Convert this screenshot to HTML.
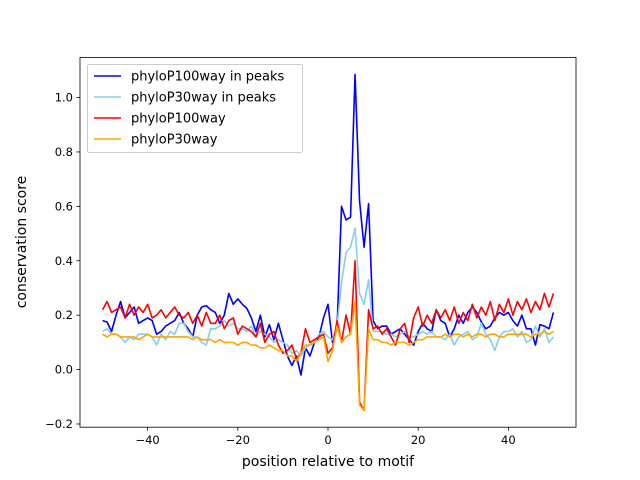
<!DOCTYPE html>
<html><head><meta charset="utf-8"><style>
body{margin:0;background:#fff;}
svg{display:block;font-family:"DejaVu Sans","Liberation Sans",sans-serif;}
</style></head><body>
<svg id="chart" width="640" height="480">
<rect x="0" y="0" width="640" height="480" fill="#fff"/>
<g id="plot"></g>
<rect x="80" y="57.6" width="496" height="369.6" fill="none" stroke="#000" stroke-width="0.8"/>
<g id="xticks"></g><g id="yticks"></g>
<text x="328" y="466" font-size="14" text-anchor="middle">position relative to motif</text>
<text transform="translate(26,242) rotate(-90)" font-size="14" text-anchor="middle">conservation score</text>
<g>
<rect x="87.5" y="64.5" width="215" height="88" rx="2" fill="#fff" fill-opacity="0.8" stroke="#ccc"/>
<line x1="94" y1="76" x2="121" y2="76" stroke="blue" stroke-width="1.5"/>
<text x="131" y="80.5" font-size="13">phyloP100way in peaks</text>
<line x1="94" y1="97" x2="121" y2="97" stroke="skyblue" stroke-width="1.5"/>
<text x="131" y="101.5" font-size="13">phyloP30way in peaks</text>
<line x1="94" y1="118" x2="121" y2="118" stroke="red" stroke-width="1.5"/>
<text x="131" y="122.5" font-size="13">phyloP100way</text>
<line x1="94" y1="139" x2="121" y2="139" stroke="orange" stroke-width="1.5"/>
<text x="131" y="143.5" font-size="13">phyloP30way</text>
</g>
</svg>
<script>
const xTicks=[-40,-20,0,20,40];
const yTicks=[-0.2,0.0,0.2,0.4,0.6,0.8,1.0];
const yTickLabels=["−0.2","0.0","0.2","0.4","0.6","0.8","1.0"];
const blue=[0.18,0.175,0.14,0.20,0.25,0.19,0.21,0.23,0.17,0.18,0.19,0.18,0.13,0.14,0.16,0.17,0.18,0.21,0.17,0.15,0.12,0.20,0.23,0.235,0.22,0.21,0.17,0.20,0.28,0.24,0.26,0.24,0.225,0.19,0.14,0.20,0.12,0.165,0.11,0.17,0.11,0.05,0.015,0.05,-0.02,0.08,0.05,0.10,0.12,0.19,0.24,0.10,0.15,0.60,0.55,0.56,1.085,0.62,0.45,0.61,0.18,0.15,0.16,0.16,0.13,0.14,0.15,0.13,0.11,0.09,0.14,0.17,0.15,0.14,0.22,0.18,0.17,0.12,0.15,0.20,0.17,0.21,0.23,0.21,0.175,0.15,0.16,0.19,0.21,0.20,0.21,0.18,0.16,0.20,0.15,0.15,0.09,0.165,0.16,0.15,0.21];
const lightblue=[0.14,0.15,0.13,0.13,0.12,0.10,0.12,0.11,0.13,0.13,0.13,0.12,0.09,0.13,0.11,0.14,0.13,0.17,0.17,0.14,0.12,0.12,0.10,0.09,0.15,0.15,0.16,0.18,0.16,0.17,0.15,0.15,0.14,0.16,0.12,0.14,0.13,0.12,0.10,0.11,0.10,0.09,0.06,0.07,0.05,0.08,0.09,0.10,0.13,0.14,0.12,0.11,0.16,0.32,0.43,0.45,0.52,0.28,0.24,0.33,0.14,0.14,0.14,0.13,0.13,0.12,0.13,0.14,0.12,0.12,0.13,0.14,0.13,0.14,0.12,0.12,0.11,0.13,0.09,0.12,0.13,0.14,0.11,0.12,0.17,0.13,0.11,0.07,0.12,0.14,0.14,0.15,0.12,0.14,0.10,0.11,0.16,0.12,0.15,0.10,0.12];
const red=[0.22,0.25,0.21,0.22,0.23,0.19,0.24,0.20,0.23,0.21,0.24,0.19,0.20,0.22,0.19,0.21,0.23,0.20,0.19,0.21,0.17,0.20,0.16,0.21,0.17,0.17,0.20,0.15,0.18,0.19,0.13,0.16,0.15,0.14,0.12,0.17,0.10,0.13,0.14,0.09,0.06,0.07,0.09,0.04,0.06,0.15,0.10,0.11,0.12,0.13,0.06,0.08,0.18,0.10,0.20,0.13,0.40,-0.12,-0.15,0.22,0.15,0.16,0.13,0.15,0.12,0.09,0.15,0.17,0.10,0.19,0.23,0.16,0.20,0.17,0.22,0.19,0.22,0.18,0.23,0.17,0.21,0.18,0.24,0.19,0.23,0.20,0.25,0.18,0.24,0.21,0.26,0.20,0.25,0.22,0.26,0.21,0.25,0.22,0.28,0.23,0.28];
const orange=[0.13,0.12,0.13,0.13,0.12,0.12,0.12,0.12,0.11,0.12,0.13,0.12,0.12,0.12,0.12,0.12,0.12,0.12,0.12,0.12,0.11,0.12,0.11,0.11,0.11,0.10,0.11,0.10,0.10,0.10,0.09,0.10,0.10,0.09,0.09,0.08,0.08,0.09,0.08,0.07,0.07,0.05,0.05,0.03,0.06,0.09,0.09,0.10,0.11,0.12,0.03,0.07,0.16,0.10,0.12,0.13,0.25,-0.13,-0.15,0.15,0.11,0.11,0.10,0.10,0.09,0.10,0.10,0.10,0.09,0.10,0.11,0.11,0.12,0.12,0.12,0.12,0.13,0.12,0.13,0.13,0.12,0.13,0.12,0.13,0.13,0.12,0.13,0.13,0.12,0.12,0.13,0.13,0.13,0.13,0.13,0.12,0.13,0.13,0.14,0.13,0.14];
const xMin=-55,xMax=55,yMin=-0.2118,yMax=1.1468;
const L=80,R=576,T=57.6,B=427.2;
const xs=v=>L+(v-xMin)/(xMax-xMin)*(R-L);
const ys=v=>B-(v-yMin)/(yMax-yMin)*(B-T);
const NS="http://www.w3.org/2000/svg";
const plot=document.getElementById('plot');
function series(vals,color,name){
  const p=document.createElementNS(NS,'polyline');
  p.setAttribute('points',vals.map((v,i)=>xs(i-50).toFixed(2)+','+ys(v).toFixed(2)).join(' '));
  p.setAttribute('fill','none');p.setAttribute('stroke',color);p.setAttribute('stroke-width','1.6');
  p.setAttribute('stroke-linejoin','round');
  
  
  plot.appendChild(p);
}
series(blue,'blue','line-phylop100-peaks');
series(lightblue,'skyblue','line-phylop30-peaks');
series(red,'red','line-phylop100');
series(orange,'orange','line-phylop30');
const xt=document.getElementById('xticks');
xTicks.forEach(t=>{
  const x=xs(t);
  const l=document.createElementNS(NS,'line');
  l.setAttribute('x1',x);l.setAttribute('x2',x);l.setAttribute('y1',B);l.setAttribute('y2',B+3.5);l.setAttribute('stroke','#000');l.setAttribute('stroke-width','0.8');
  
  
  xt.appendChild(l);
  const s=document.createElementNS(NS,'text');
  s.setAttribute('x',x);s.setAttribute('y',B+17);s.setAttribute('font-size','11.5');s.setAttribute('text-anchor','middle');
  s.textContent=(t<0?'−'+(-t):String(t));
  
  
  xt.appendChild(s);
});
const yt=document.getElementById('yticks');
yTicks.forEach((t,i)=>{
  const y=ys(t);
  const l=document.createElementNS(NS,'line');
  l.setAttribute('x1',L-3.5);l.setAttribute('x2',L);l.setAttribute('y1',y);l.setAttribute('y2',y);l.setAttribute('stroke','#000');l.setAttribute('stroke-width','0.8');
  
  
  yt.appendChild(l);
  const s=document.createElementNS(NS,'text');
  s.setAttribute('x',L-7);s.setAttribute('y',y+4);s.setAttribute('font-size','11.5');s.setAttribute('text-anchor','end');
  s.textContent=yTickLabels[i];
  
  
  yt.appendChild(s);
});
</script>
</body></html>
